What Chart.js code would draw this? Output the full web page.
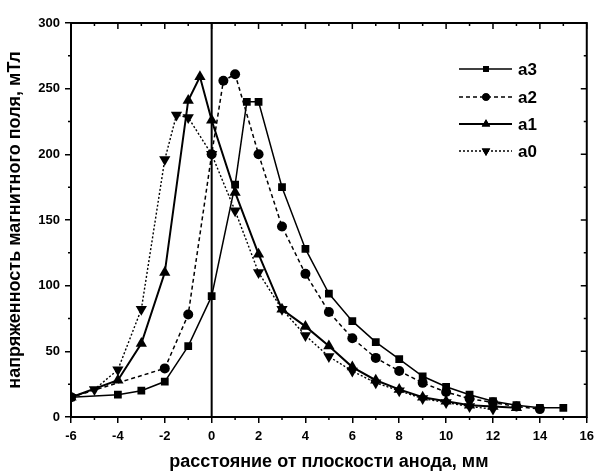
<!DOCTYPE html>
<html>
<head>
<meta charset="utf-8">
<script src="https://cdn.jsdelivr.net/npm/chart.js@4"></script>
<style>
  html, body { margin: 0; padding: 0; background: #fff; }
  #wrap { width: 600px; height: 475px; }
</style>
</head>
<body>
<div id="wrap"><canvas id="field-chart" width="600" height="475"></canvas></div>
<script>
// distance from anode plane, mm  /  field strength, mT
const a3Dist = [-6, -4, -3, -2, -1, 0, 1, 1.5, 2, 3, 4, 5, 6, 7, 8, 9, 10, 11, 12, 13, 14, 15];
const a3Field = [15, 17, 20, 27, 54, 92, 177, 240, 240, 175, 128, 94, 73, 57, 44, 31, 23, 17, 12, 9, 7, 7];

const a2Dist = [-6, -2, -1, 0, 0.5, 1, 2, 3, 4, 5, 6, 7, 8, 9, 10, 11, 12, 13, 14];
const a2Field = [15, 37, 78, 200, 256, 261, 200, 145, 109, 80, 60, 45, 35, 26, 19, 14, 11, 8, 6];

const a1Dist = [-6, -4, -3, -2, -1, -0.5, 0, 1, 2, 3, 4, 5, 6, 7, 8, 9, 10, 11, 12, 13];
const a1Field = [15, 28, 56, 110, 241, 259, 226, 171, 124, 82, 69, 54, 38, 28, 21, 15, 12, 9, 8, 7];

const a0Dist = [-6, -5, -4, -3, -2, -1.5, -1, 0, 1, 2, 3, 4, 5, 6, 7, 8, 9, 10, 11, 12];
const a0Field = [15, 21, 36, 82, 196, 230, 228, 200, 157, 110, 82, 62, 46, 35, 26, 20, 14, 11, 8, 6];

const seriesNames = ['a3', 'a2', 'a1', 'a0'];

const xTitle = 'расстояние от плоскости анода, мм';
const yTitle = 'напряженность магнитного поля, мТл';

const FONT = "'Liberation Sans', Arial, sans-serif";

function toPoints(xs, ys) {
    return xs.map((x, i) => ({ x: x, y: ys[i] }));
}

const datasets = [
    {
        label: seriesNames[0],
        data: toPoints(a3Dist, a3Field),
        borderWidth: 1.5,
        borderDash: [],
        pointStyle: 'rect',
        pointRadius: 5.5,
        pointRotation: 0
    },
    {
        label: seriesNames[1],
        data: toPoints(a2Dist, a2Field),
        borderWidth: 1.5,
        borderDash: [4, 3],
        pointStyle: 'circle',
        pointRadius: 5,
        pointRotation: 0
    },
    {
        label: seriesNames[2],
        data: toPoints(a1Dist, a1Field),
        borderWidth: 2,
        borderDash: [],
        pointStyle: 'triangle',
        pointRadius: 6.5,
        pointRotation: 0
    },
    {
        label: seriesNames[3],
        data: toPoints(a0Dist, a0Field),
        borderWidth: 1.4,
        borderDash: [2, 2],
        pointStyle: 'triangle',
        pointRadius: 6.5,
        pointRotation: 180
    }
].map(ds => Object.assign(ds, {
    showLine: true,
    borderColor: '#000',
    backgroundColor: '#000',
    pointBackgroundColor: '#000',
    pointBorderColor: '#000',
    pointBorderWidth: 0,
    tension: 0
}));

// frame, mirrored ticks, minor ticks, zero line and the legend box
const framePlugin = {
    id: 'frame',
    afterDatasetsDraw(chart) {
        const ctx = chart.ctx;
        const a = chart.chartArea;
        const xs = chart.scales.x;
        const ys = chart.scales.y;
        ctx.save();
        ctx.strokeStyle = '#000';
        ctx.setLineDash([]);

        // vertical line at x = 0
        ctx.lineWidth = 2;
        ctx.beginPath();
        ctx.moveTo(xs.getPixelForValue(0), a.top);
        ctx.lineTo(xs.getPixelForValue(0), a.bottom);
        ctx.stroke();

        // box
        ctx.lineWidth = 2;
        ctx.strokeRect(a.left, a.top, a.right - a.left, a.bottom - a.top);

        ctx.lineWidth = 1.5;
        ctx.beginPath();
        for (let v = -6; v <= 16; v += 1) {
            const px = xs.getPixelForValue(v);
            const major = v % 2 === 0;
            const len = major ? 6 : 3;
            ctx.moveTo(px, a.top);
            ctx.lineTo(px, a.top + len);
            if (!major) {
                ctx.moveTo(px, a.bottom);
                ctx.lineTo(px, a.bottom + 3);
            }
        }
        for (let v = 0; v <= 300; v += 25) {
            const py = ys.getPixelForValue(v);
            const major = v % 50 === 0;
            const len = major ? 6 : 3;
            ctx.moveTo(a.right, py);
            ctx.lineTo(a.right - len, py);
            if (!major) {
                ctx.moveTo(a.left, py);
                ctx.lineTo(a.left - 3, py);
            }
        }
        ctx.stroke();

        // legend
        const lx1 = 459, lx2 = 512, lmid = 486;
        const rows = [69, 97, 124, 151];
        chart.data.datasets.forEach((ds, i) => {
            const y = rows[i];
            ctx.lineWidth = ds.borderWidth;
            ctx.setLineDash(ds.borderDash);
            ctx.beginPath();
            ctx.moveTo(lx1, y);
            ctx.lineTo(lx2, y);
            ctx.stroke();
            ctx.setLineDash([]);
            ctx.fillStyle = '#000';
            Chart.helpers.drawPoint(ctx, {
                pointStyle: ds.pointStyle,
                rotation: ds.pointRotation,
                radius: ds.pointRadius * 0.75,
                borderWidth: 0
            }, lmid, y);
            ctx.fill();
            ctx.font = 'bold 17px ' + FONT;
            ctx.textBaseline = 'middle';
            ctx.textAlign = 'left';
            ctx.fillText(ds.label, 518, y + 1);
        });
        ctx.restore();
    }
};

const fieldChart = new Chart(document.getElementById('field-chart').getContext('2d'), {
    type: 'scatter',
    data: { datasets: datasets },
    options: {
        responsive: false,
        animation: false,
        devicePixelRatio: 1,
        layout: { padding: { top: 23, right: 8, left: 0, bottom: 0 } },
        plugins: {
            legend: { display: false },
            tooltip: { enabled: false }
        },
        scales: {
            x: {
                type: 'linear',
                min: -6,
                max: 16,
                border: { display: false },
                grid: { drawOnChartArea: false, drawTicks: true, tickLength: 6, color: '#000', lineWidth: 1.5 },
                ticks: {
                    stepSize: 2,
                    color: '#000',
                    padding: 6,
                    font: { family: FONT, size: 13, weight: 'bold' }
                },
                title: {
                    display: true,
                    text: xTitle,
                    color: '#000',
                    padding: { top: 4, bottom: 2 },
                    font: { family: FONT, size: 18, weight: 'bold' }
                },
                afterFit(scale) { scale.height = 58; }
            },
            y: {
                type: 'linear',
                min: 0,
                max: 300,
                border: { display: false },
                grid: { drawOnChartArea: false, drawTicks: true, tickLength: 6, color: '#000', lineWidth: 1.5 },
                ticks: {
                    stepSize: 50,
                    color: '#000',
                    padding: 5,
                    font: { family: FONT, size: 13, weight: 'bold' }
                },
                title: {
                    display: true,
                    text: yTitle,
                    color: '#000',
                    padding: { top: 4, bottom: 4 },
                    font: { family: FONT, size: 18, weight: 'bold' }
                },
                afterFit(scale) { scale.width = 71; }
            }
        }
    },
    plugins: [framePlugin]
});
</script>
</body>
</html>
